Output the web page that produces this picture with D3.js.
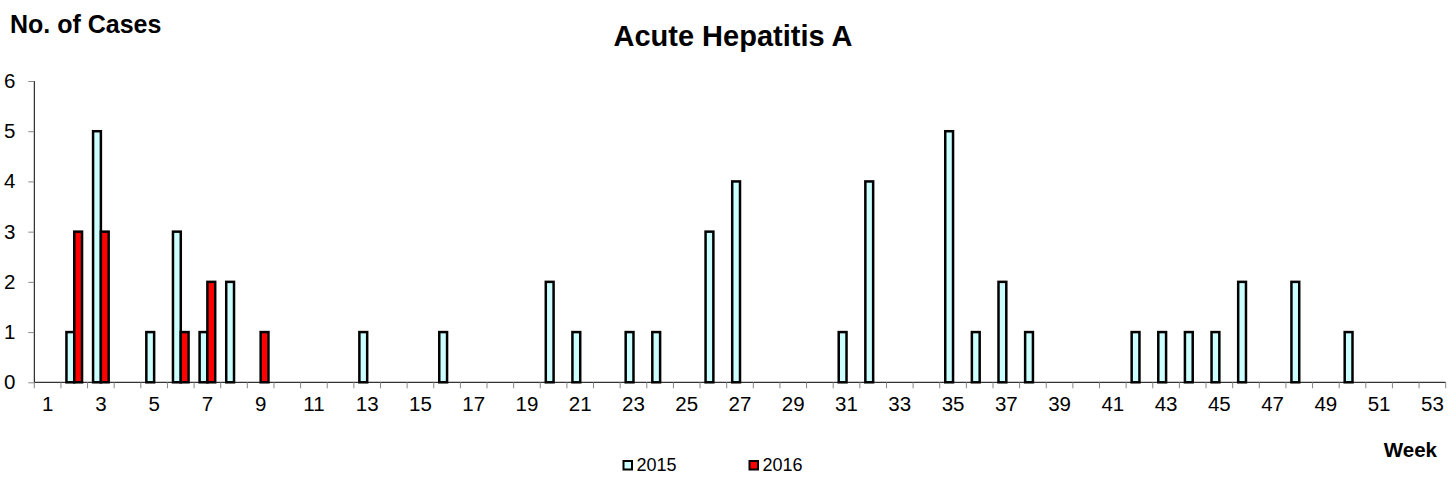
<!DOCTYPE html>
<html>
<head>
<meta charset="utf-8">
<script src="https://cdn.jsdelivr.net/npm/d3@7"></script>
<style>
  html, body { margin: 0; padding: 0; background: #fff; }
  svg { display: block; font-family: "Liberation Sans", Arial, Helvetica, sans-serif; }
</style>
</head>
<body>
<svg id="chart" width="1453" height="487"></svg>
<script>
const weeks = d3.range(1, 54);
const seriesNames = ["2015", "2016"];
const cases2015 = [0,1,5,0,1,3,1,2,0,0,0,0,1,0,0,1,0,0,0,2,1,0,1,1,0,3,4,0,0,0,1,4,0,0,5,1,2,1,0,0,0,1,1,1,1,2,0,2,0,1,0,0,0];
const cases2016 = [0,3,3,0,0,1,2,0,1,0,0,0,0,0,0,0,0,0,0,0,0,0,0,0,0,0,0,0,0,0,0,0,0,0,0,0,0,0,0,0,0,0,0,0,0,0,0,0,0,0,0,0,0];
const yTicks = [0,1,2,3,4,5,6];
const xTickLabels = weeks.filter(w => w % 2 === 1);
const colors = {"2015": "#ccffff", "2016": "#ff0000"};

(function () {
const svg = d3.select("#chart");
const pLeft = 34.3, pRight = 1445.7, pBottom = 382.3, pTop = 81;

const x = d3.scaleBand().domain(weeks).range([pLeft, pRight]).padding(0);
const xSub = d3.scaleBand().domain(seriesNames).range([0, x.bandwidth()]).paddingInner(0).paddingOuter(0.707);
const y = d3.scaleLinear().domain([0, 6]).range([pBottom, pTop]);

// Bars
const data = [];
weeks.forEach((w, i) => {
  data.push({week: w, series: "2015", value: cases2015[i]});
  data.push({week: w, series: "2016", value: cases2016[i]});
});
svg.append("g").selectAll("rect")
  .data(data.filter(d => d.value > 0))
  .join("rect")
  .attr("x", d => x(d.week) + xSub(d.series))
  .attr("y", d => y(d.value))
  .attr("width", xSub.bandwidth())
  .attr("height", d => y(0) - y(d.value))
  .attr("fill", d => colors[d.series])
  .attr("stroke", "#000")
  .attr("stroke-width", 2.5);

// Y axis
const yAxis = svg.append("g").attr("transform", `translate(${pLeft},0)`)
  .call(d3.axisLeft(y).tickValues(yTicks).tickSize(6).tickPadding(13).tickFormat(d3.format("d")));
yAxis.select(".domain").attr("stroke", "#000").attr("d", `M0,${pTop}V${pBottom}`);
yAxis.selectAll(".tick line").attr("stroke", "#888");
yAxis.selectAll(".tick text").attr("font-size", 20.5).attr("fill", "#000")
  .attr("font-family", "Liberation Sans, Arial, sans-serif");

// X axis
const xAxis = svg.append("g").attr("transform", `translate(0,${pBottom})`)
  .call(d3.axisBottom(x).tickValues(xTickLabels).tickSize(0).tickPadding(14));
xAxis.select(".domain").attr("stroke", "#000").attr("d", `M${pLeft},0H${pRight}`);
xAxis.selectAll(".tick text").attr("font-size", 20.5).attr("fill", "#000")
  .attr("font-family", "Liberation Sans, Arial, sans-serif");
// boundary ticks between categories
svg.append("g").selectAll("line")
  .data(weeks.slice(1).concat([54]))
  .join("line")
  .attr("x1", d => d === 54 ? pRight : x(d))
  .attr("x2", d => d === 54 ? pRight : x(d))
  .attr("y1", pBottom)
  .attr("y2", pBottom + 6)
  .attr("stroke", "#888")
  .attr("stroke-width", 1);
svg.append("line").attr("x1", pLeft).attr("x2", pLeft).attr("y1", pBottom).attr("y2", pBottom + 6).attr("stroke", "#888");

// Titles
svg.append("text").attr("x", 733).attr("y", 46).attr("text-anchor", "middle")
  .attr("font-size", 29).attr("font-weight", "bold").text("Acute Hepatitis A");
svg.append("text").attr("x", 10).attr("y", 33).attr("font-size", 25).attr("font-weight", "bold").text("No. of Cases");
svg.append("text").attr("x", 1437).attr("y", 457).attr("text-anchor", "end")
  .attr("font-size", 20.5).attr("font-weight", "bold").text("Week");

// Legend
const legendX = [623.5, 749.5];
const lg = svg.append("g").selectAll("g").data(seriesNames).join("g")
  .attr("transform", (d, i) => `translate(${legendX[i]},461)`);
lg.append("rect").attr("width", 8.5).attr("height", 8.5)
  .attr("fill", d => colors[d]).attr("stroke", "#000").attr("stroke-width", 2);
lg.append("text").attr("x", 13).attr("y", 10).attr("font-size", 18).text(d => d);
})();
</script>
</body>
</html>
